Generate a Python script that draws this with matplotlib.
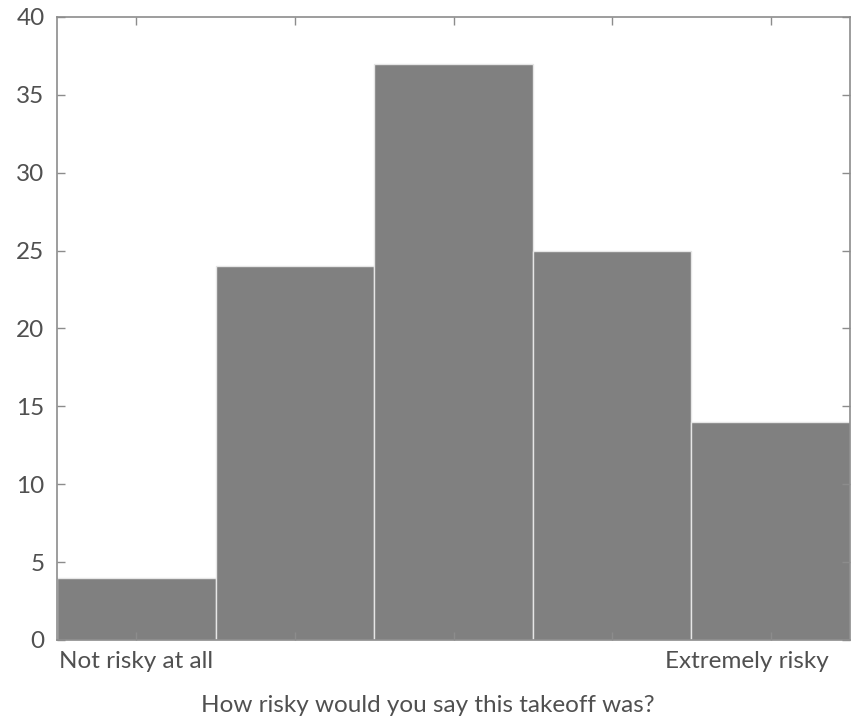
import matplotlib
matplotlib.use("Agg")
import matplotlib.pyplot as plt

# Responses per risk rating (1 = not risky at all, 5 = extremely risky)
ratings = [1, 2, 3, 4, 5]
counts = [4, 24, 37, 25, 14]
end_labels = ["Not risky at all", "Extremely risky"]
y_ticks = [0, 5, 10, 15, 20, 25, 30, 35, 40]
x_title = "How risky would you say this takeoff was?"

plt.rcParams["font.family"] = ["Lato", "DejaVu Sans"]
text_color = "#505050"
axis_color = "#8c8c8c"
fs = 17.5

fig = plt.figure(figsize=(8.52, 7.23), dpi=100)
ax = fig.add_axes([57 / 852, 1 - 640 / 723, (850 - 57) / 852, (640 - 17) / 723])

ax.bar(ratings, counts, width=1.0, color="#808080", edgecolor="#e6e6e6",
       linewidth=1.0, zorder=1)

ax.set_xlim(0.5, 5.5)
ax.set_ylim(0, 40)
ax.set_yticks(y_ticks)
ax.set_yticklabels([str(v) for v in y_ticks], fontsize=fs, color=text_color)
ax.set_xticks(ratings)
ax.set_xticklabels(["", "", "", "", ""])

ax.tick_params(direction="in", length=6, width=1, color=axis_color,
               top=True, right=True, pad=9)
for s in ax.spines.values():
    s.set_color(axis_color)
    s.set_linewidth(1.2)
    s.set_zorder(3)

# End-point labels under the rating axis
ax.text(1, -0.018, end_labels[0], transform=ax.get_xaxis_transform(),
        ha="center", va="top", fontsize=fs, color=text_color)
ax.text(4.85, -0.018, end_labels[1], transform=ax.get_xaxis_transform(),
        ha="center", va="top", fontsize=fs, color=text_color)

fig.text(428 / 852, 1 - 706 / 723, x_title, ha="center", va="center",
         fontsize=fs, color=text_color)

fig.savefig("out.png", dpi=100, facecolor="white")
